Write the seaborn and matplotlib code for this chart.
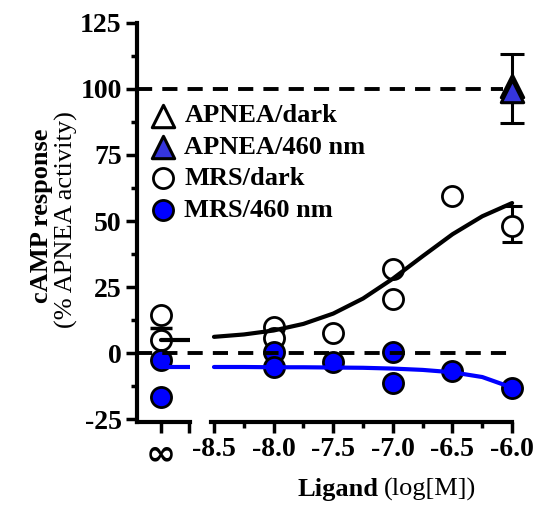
import numpy as np
import seaborn as sns
import matplotlib.pyplot as plt

# basal (no ligand) points, drawn at the "∞" position of the broken axis
mrs_dark_basal = [14.3, 4.9]
mrs_460_basal = [-2.6, -16.6]

# concentration-response points (log[M], % APNEA activity)
mrs_dark_x = [-8.0, -8.0, -7.5, -7.0, -7.0, -6.5, -6.0]
mrs_dark_y = [9.8, 5.7, 7.5, 32.0, 20.7, 59.6, 48.0]
mrs_dark_err_lo = 42.0   # error bar at -6.0
mrs_dark_err_hi = 55.5

mrs_460_x = [-8.0, -8.0, -7.5, -7.0, -7.0, -6.5, -6.0]
mrs_460_y = [0.4, -5.3, -3.4, 0.4, -11.3, -6.8, -13.2]

# APNEA reference at 1 uM
apnea_x = [-6.0]
apnea_dark = [101.0]
apnea_460 = [99.0]
apnea_err = 13.0

# fitted curves
curve_x = [-8.5, -8.25, -8.0, -7.75, -7.5, -7.25, -7.0, -6.75, -6.5, -6.25, -6.0]
curve_dark = [6.2, 7.1, 8.6, 11.1, 15.0, 20.7, 28.2, 36.7, 45.0, 51.8, 56.8]
curve_460 = [-5.2, -5.2, -5.3, -5.3, -5.4, -5.5, -5.8, -6.3, -7.2, -9.0, -13.0]
bottom_dark = 5.0
bottom_460 = -5.3

x_ticks = [-8.5, -8.0, -7.5, -7.0, -6.5, -6.0]
y_ticks = [-25, 0, 25, 50, 75, 100, 125]

sns.set_style("ticks")
plt.rcParams['font.family'] = ['Liberation Serif', 'DejaVu Serif']
for key in ('text.color', 'axes.labelcolor', 'xtick.color', 'ytick.color', 'axes.edgecolor'):
    plt.rcParams[key] = 'black'
FS = 19
TFS = 20
BLUE = '#0000FF'

fig = plt.figure(figsize=(5.41, 5.05), dpi=100)
W, H = 541, 505
bot = 1 - 422 / H
hgt = (422 - 22.7) / H
ax_l = fig.add_axes([137 / W, bot, 53 / W, hgt])
ax_r = fig.add_axes([211 / W, bot, 319 / W, hgt])

inf_pos = 0.0
ax_l.set_xlim(-0.453, 0.547)
ax_r.set_xlim(-8.525, -5.85)
for ax in (ax_l, ax_r):
    ax.set_ylim(-26, 125)
    ax.set_facecolor('none')

# --- basal segment ---
sns.scatterplot(x=[inf_pos] * len(mrs_dark_basal), y=mrs_dark_basal, ax=ax_l,
                marker='o', s=210, color='white', edgecolor='black',
                linewidth=2, zorder=3, clip_on=False)
sns.scatterplot(x=[inf_pos] * len(mrs_460_basal), y=mrs_460_basal, ax=ax_l,
                marker='o', s=210, color=BLUE, edgecolor='black',
                linewidth=2, zorder=3, clip_on=False)
ax_l.plot(inf_pos, np.mean(mrs_dark_basal), marker='_', ms=16, mew=2.5,
          color='k', zorder=4)
ax_l.plot([inf_pos, 0.547], [bottom_dark] * 2, color='k', lw=3, zorder=4)
ax_l.plot([inf_pos, 0.547], [bottom_460] * 2, color=BLUE, lw=3, zorder=4)

# --- concentration-response segment ---
ax_r.errorbar(apnea_x, [100.0], yerr=apnea_err, fmt='none', ecolor='k',
              elinewidth=2.2, capsize=8.5, capthick=2.2, zorder=2, clip_on=False)
ax_r.errorbar([-6.0], [mrs_dark_y[-1]],
              yerr=[[mrs_dark_y[-1] - mrs_dark_err_lo], [mrs_dark_err_hi - mrs_dark_y[-1]]],
              fmt='none', ecolor='k', elinewidth=2.2, capsize=7.5, capthick=2.2,
              zorder=2, clip_on=False)

sns.scatterplot(x=apnea_x, y=apnea_dark, ax=ax_r, marker='^', s=260,
                color='white', edgecolor='black', linewidth=2.2, zorder=3,
                label='APNEA/dark', clip_on=False)
sns.scatterplot(x=apnea_x, y=apnea_460, ax=ax_r, marker='^', s=260,
                color='#3535DD', edgecolor='black', linewidth=2.2, zorder=3,
                label='APNEA/460 nm', clip_on=False)
sns.scatterplot(x=mrs_dark_x, y=mrs_dark_y, ax=ax_r, marker='o', s=210,
                color='white', edgecolor='black', linewidth=2, zorder=3,
                label='MRS/dark', clip_on=False)
sns.scatterplot(x=mrs_460_x, y=mrs_460_y, ax=ax_r, marker='o', s=210,
                color=BLUE, edgecolor='black', linewidth=2, zorder=3,
                label='MRS/460 nm', clip_on=False)

sns.lineplot(x=curve_x, y=curve_dark, ax=ax_r, color='k', lw=3, zorder=4)
sns.lineplot(x=curve_x, y=curve_460, ax=ax_r, color=BLUE, lw=3, zorder=4)

# reference dashed lines run across the axis break
x0 = (137 - 211) / 319
for yv, x1 in ((100, (503 - 211) / 319), (0, (507 - 211) / 319)):
    ax_r.axhline(yv, xmin=x0, xmax=x1, color='k', lw=2.8,
                 ls=(0, (3.9, 2.6)), clip_on=False, zorder=5)

# --- axes styling ---
for ax in (ax_l, ax_r):
    for side in ('top', 'right'):
        ax.spines[side].set_visible(False)
    ax.spines['bottom'].set_linewidth(3)
    ax.tick_params(axis='both', which='major', direction='out', length=8,
                   width=2.5, labelsize=TFS, pad=3, colors='black')
    ax.tick_params(axis='both', which='minor', direction='out', length=4.5,
                   width=2.5, colors='black')

ax_l.spines['left'].set_linewidth(3)
ax_l.set_yticks(y_ticks)
ax_l.set_yticks(np.arange(-12.5, 125, 25), minor=True)
ax_l.set_yticklabels([str(v) for v in y_ticks], fontweight='bold', fontsize=TFS)
ax_l.set_xticks([inf_pos, 0.53])
ax_l.set_xticklabels(['∞', ''], fontweight='bold', fontsize=TFS + 6,
                     family=['DejaVu Sans'])

ax_r.spines['left'].set_visible(False)
ax_r.set_yticks([])
ax_r.spines['bottom'].set_bounds(-8.525, -6.0)
ax_r.set_xticks(x_ticks)
ax_r.set_xticks([-8.25, -7.75, -7.25, -6.75, -6.25], minor=True)
ax_r.set_xticklabels([f'{v:.1f}' for v in x_ticks], fontweight='bold', fontsize=TFS)

for ax in (ax_l, ax_r):
    ax.set_xlabel('')
    ax.set_ylabel('')

# legend
handles, labels = ax_r.get_legend_handles_labels()
ax_r.legend(handles, labels, loc='upper left',
            bbox_to_anchor=(150 / W, 1 - 104 / H), bbox_transform=fig.transFigure,
            frameon=False, borderpad=0, borderaxespad=0, handlelength=1.0,
            handletextpad=0.3, labelspacing=0.3,
            prop={'family': ['Liberation Serif'], 'weight': 'bold', 'size': FS})

# axis titles
fig.text(42 / W, 1 - 216 / H, 'cAMP response', rotation=90, ha='center',
         va='center', fontsize=FS, fontweight='bold')
fig.text(66 / W, 1 - 220 / H, '(% APNEA activity)', rotation=90, ha='center',
         va='center', fontsize=FS)
fig.text(378 / W, 1 - 496 / H, 'Ligand', ha='right', va='baseline',
         fontsize=FS, fontweight='bold')
fig.text(384 / W, 1 - 496 / H, '(log[M])', ha='left', va='baseline',
         fontsize=FS)

fig.savefig('out.png', dpi=100)
